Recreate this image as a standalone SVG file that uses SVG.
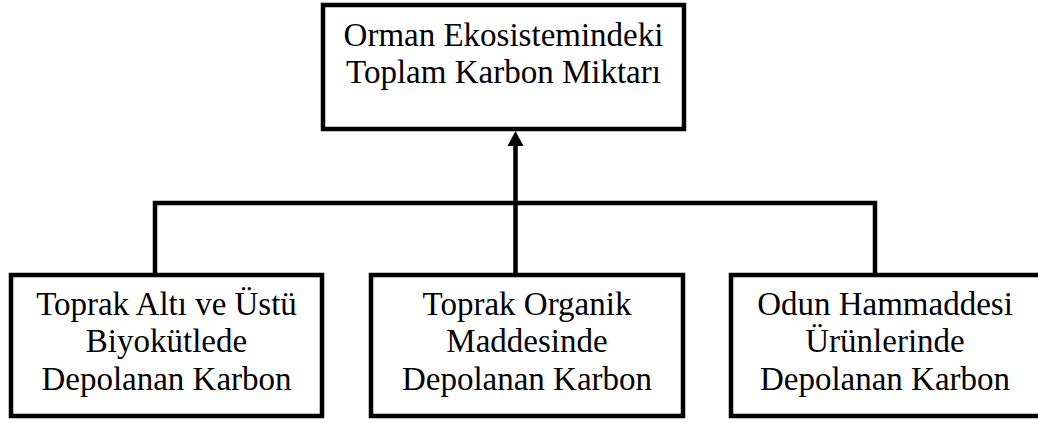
<svg xmlns="http://www.w3.org/2000/svg" width="1038" height="423" viewBox="0 0 1038 423">
  <style>
    .box { fill: #ffffff; stroke: #000000; stroke-width: 4.5; }
    .lbl { font-family: "Liberation Serif", "Times New Roman", serif; font-size: 33px; fill: #000000; text-anchor: middle; }
    .wire { fill: none; stroke: #000000; stroke-width: 4.5; stroke-linejoin: miter; stroke-linecap: butt; }
  </style>

  <rect width="1038" height="423" fill="#ffffff"/>

  <!-- connectors: branch bus and upward arrow -->
  <g id="connectors">
    <path class="wire" d="M155,275 V203 H875 V275"/>
    <path class="wire" d="M515.5,275 V146"/>
    <path d="M515.5,131 L507.5,146 L523.5,146 Z" fill="#000000"/>
  </g>

  <g id="node-total">
    <rect class="box" x="323" y="5" width="361" height="124"/>
    <text class="lbl" x="503.5" y="46">Orman Ekosistemindeki</text>
    <text class="lbl" x="503.5" y="83">Toplam Karbon Miktarı</text>
  </g>

  <g id="node-biomass">
    <rect class="box" x="11" y="275" width="311" height="141"/>
    <text class="lbl" x="166.5" y="315">Toprak Altı ve Üstü</text>
    <text class="lbl" x="166.5" y="352">Biyokütlede</text>
    <text class="lbl" x="166.5" y="390">Depolanan Karbon</text>
  </g>

  <g id="node-soil">
    <rect class="box" x="371" y="275" width="312" height="141"/>
    <text class="lbl" x="527" y="315">Toprak Organik</text>
    <text class="lbl" x="527" y="352">Maddesinde</text>
    <text class="lbl" x="527" y="390">Depolanan Karbon</text>
  </g>

  <!-- right box runs past the canvas edge -->
  <g id="node-wood">
    <rect class="box" x="731" y="275" width="320" height="141"/>
    <text class="lbl" x="885" y="315">Odun Hammaddesi</text>
    <text class="lbl" x="885" y="352">Ürünlerinde</text>
    <text class="lbl" x="885" y="390">Depolanan Karbon</text>
  </g>
</svg>
